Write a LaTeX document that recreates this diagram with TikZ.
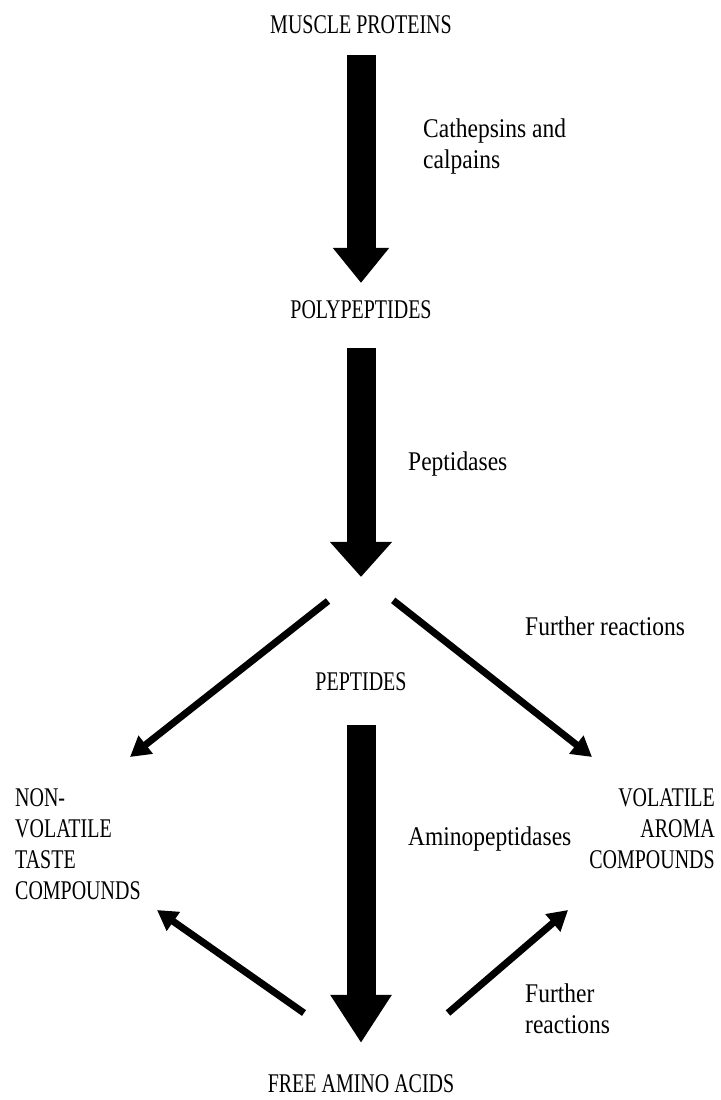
\documentclass[tikz,border=0pt]{standalone}
\usepackage{fontspec}
\setmainfont{Liberation Serif}
\newfontfamily\capsfont{Liberation Serif}[FakeStretch=0.74]
\newfontfamily\labfont{Liberation Serif}[FakeStretch=0.87]
\usepackage{tikz}
\usetikzlibrary{arrows.meta,positioning,calc}
\tikzset{
  stage/.style={inner sep=0pt,font=\capsfont\fontsize{27}{31}\selectfont},
  enzyme/.style={inner sep=0pt,align=left,font=\labfont\fontsize{27}{31}\selectfont},
  bigarrow/.style args={#1,#2}{
    line width=29pt,
    -{Triangle[length=#1pt,width=#2pt]}
  },
  thinarrow/.style={line width=7pt,-{Triangle[length=20pt,width=22pt]}},
}
\begin{document}
\begin{tikzpicture}[x=1pt,y=-1pt]
  \useasboundingbox (0,0) rectangle (720,1100);

  \node[stage,anchor=base] (mp) at (361,33) {MUSCLE PROTEINS};
  \node[stage,anchor=base] (pp) at (361,318) {POLYPEPTIDES};
  \node[stage,anchor=base] (pep) at (361,690) {PEPTIDES};
  \node[stage,anchor=base] (faa) at (361,1092) {FREE AMINO ACIDS};
  \node[stage,anchor=base west,align=left] (nvt) at (15,899) {NON-\\VOLATILE\\TASTE\\COMPOUNDS};
  \node[stage,anchor=base east,align=right] (vac) at (715,868) {VOLATILE\\AROMA\\COMPOUNDS};

  \node[enzyme,anchor=base west] (catcal) at (423,168) {Cathepsins and\\calpains};
  \node[enzyme,anchor=base west] (pepase) at (408,470) {Peptidases};
  \node[enzyme,anchor=base west] (amino) at (408,845) {Aminopeptidases};
  \node[enzyme,anchor=base west] (furth1) at (525,635) {Further reactions};
  \node[enzyme,anchor=base west] (furth2) at (525,1033) {Further\\reactions};

  % big breakdown arrows
  \draw[bigarrow={35,54},shorten <=22pt,shorten >=17pt] (mp) -- (pp);
  \draw[bigarrow={35,60},shorten <=30pt,shorten >=95pt] (pp) -- (pep);
  \draw[bigarrow={48,58},shorten <=35pt,shorten >=31pt] (pep) -- (faa);

  \coordinate (fork) at (361,575);
  \coordinate (nvt in) at (130,757);
  \coordinate (vac in) at (592,757);
  \coordinate (aa left) at (304,1013);
  \coordinate (aa right) at (448,1013);
  \coordinate (nvt out) at (157,910);
  \coordinate (vac out) at (568,910);

  \draw[thinarrow,shorten <=42pt] (fork) -- (nvt in);
  \draw[thinarrow,shorten <=41pt] (fork) -- (vac in);
  \draw[thinarrow] (aa left) -- (nvt out);
  \draw[thinarrow] (aa right) -- (vac out);
\end{tikzpicture}
\end{document}
